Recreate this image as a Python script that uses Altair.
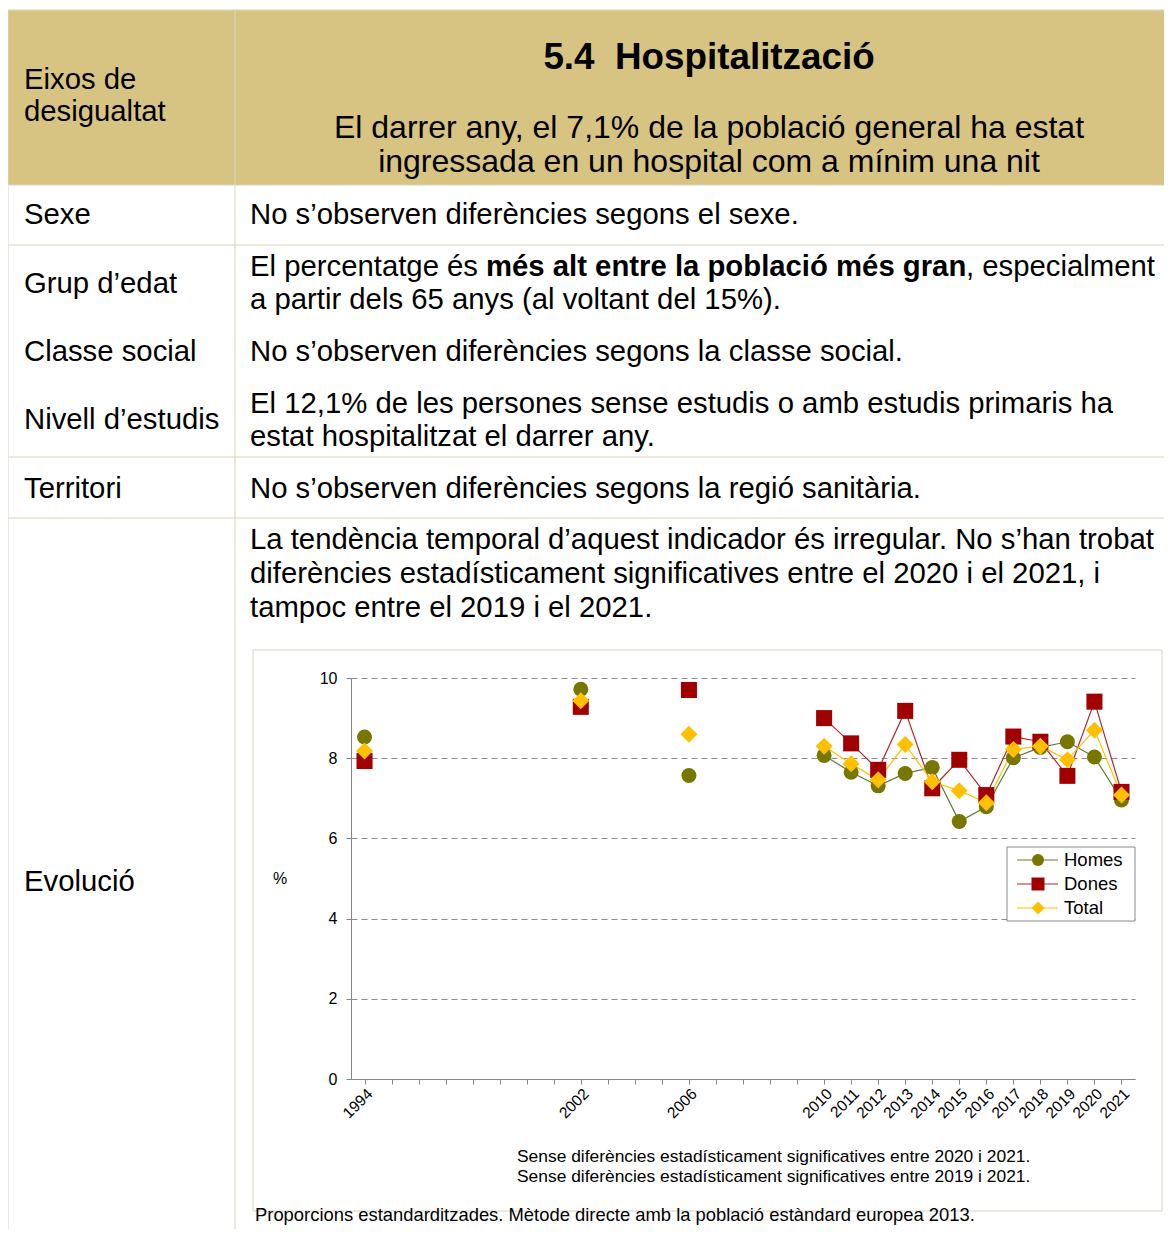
import altair as alt
import pandas as pd

FONT = "Liberation Sans"

# ---- data -------------------------------------------------------------
series = ["Homes", "Dones", "Total"]
years = ["1994", "2002", "2006", "2010", "2011", "2012", "2013", "2014",
         "2015", "2016", "2017", "2018", "2019", "2020", "2021"]
homes = [8.53, 9.72, 7.57, 8.07, 7.65, 7.31, 7.62, 7.77, 6.42, 6.79, 8.01, 8.27, 8.41, 8.03, 6.96]
dones = [7.93, 9.28, 9.70, 9.00, 8.37, 7.71, 9.18, 7.25, 7.96, 7.08, 8.54, 8.41, 7.56, 9.41, 7.16]
total = [8.18, 9.43, 8.60, 8.30, 7.86, 7.46, 8.34, 7.41, 7.19, 6.89, 8.22, 8.30, 7.96, 8.70, 7.08]

# x axis category slots; the empty years of the original axis are blank slots
B = " "
x_slots = ["1994", B * 1, B * 2, B * 3, B * 4, B * 5, B * 6, B * 7, "2002",
           B * 8, B * 9, B * 10, "2006", B * 11, B * 12, B * 13, B * 14,
           "2010", "2011", "2012", "2013", "2014", "2015", "2016",
           "2017", "2018", "2019", "2020", "2021"]

marker_colors = ["#777700", "#A00000", "#FFC000"]
line_colors = ["#5E7D3A", "#B3262B", "#FFC000"]
marker_shapes = ["circle", "square", "diamond"]
marker_sizes = [225, 289, 256]
legend_sizes = [144, 169, 169]

rows = []
for s, vals in zip(series, [homes, dones, total]):
    for yv, v in zip(years, vals):
        rows.append({"serie": s, "year": yv, "valor": v, "conn": int(yv) >= 2010})
df = pd.DataFrame(rows)
one = pd.DataFrame({"k": [0]})

OX, OY = 351, 678          # page position of plot origin
PW, PH = 784, 401
W, H = 1156, 1221          # canvas size (fits the 1172x1237 window with 8px margins)

def px(X):
    return X - OX

def py(Y):
    return Y - OY

BORDER = "#D9D5BF"
HEADER = "#D8C482"

def text(t, X, Y, size=29.3, weight="normal", align="left"):
    return alt.Chart(one).mark_text(
        font=FONT, fontSize=size, fontWeight=weight, align=align,
        baseline="middle", color="black"
    ).encode(x=alt.value(px(X)), y=alt.value(py(Y)), text=alt.value(t))

def rule(X1, X2, Y1, Y2, color=BORDER, width=1):
    return alt.Chart(one).mark_rule(color=color, strokeWidth=width).encode(
        x=alt.value(px(X1)), x2=alt.value(px(X2)),
        y=alt.value(py(Y1)), y2=alt.value(py(Y2)))

deco = []
deco.append(alt.Chart(one).mark_rect(color=HEADER).encode(
    x=alt.value(px(8)), x2=alt.value(px(1164)),
    y=alt.value(py(10)), y2=alt.value(py(185))))
deco.append(alt.Chart(one).mark_rect(fill="white", fillOpacity=0, stroke="#D6D3C6", strokeWidth=1).encode(
    x=alt.value(px(253)), x2=alt.value(px(1162)),
    y=alt.value(py(650)), y2=alt.value(py(1211))))
for yy in [10, 185, 245, 457, 518]:
    deco.append(rule(8, 1164, yy, yy))
deco.append(rule(8, 8, 10, 1229))
deco.append(rule(235, 235, 10, 1229))

deco += [
    text("Eixos de", 24, 80),
    text("desigualtat", 24, 112),
    text("5.4\u00a0 Hospitalització", 709, 58, size=36.8, weight="bold", align="center"),
    text("El darrer any, el 7,1% de la població general ha estat", 709, 128, size=32, align="center"),
    text("ingressada en un hospital com a mínim una nit", 709, 162, size=32, align="center"),
    text("Sexe", 24, 215),
    text("No s’observen diferències segons el sexe.", 250, 215),
    text("Grup d’edat", 24, 284),
    text("El percentatge és ", 250, 267),
    text("més alt entre la població més gran", 486, 267, weight="bold"),
    text(", especialment", 966, 267),
    text("a partir dels 65 anys (al voltant del 15%).", 250, 300),
    text("Classe social", 24, 352),
    text("No s’observen diferències segons la classe social.", 250, 352),
    text("Nivell d’estudis", 24, 420),
    text("El 12,1% de les persones sense estudis o amb estudis primaris ha", 250, 404),
    text("estat hospitalitzat el darrer any.", 250, 437),
    text("Territori", 24, 489),
    text("No s’observen diferències segons la regió sanitària.", 250, 489),
    text("Evolució", 24, 882),
    text("La tendència temporal d’aquest indicador és irregular. No s’han trobat", 250, 540),
    text("diferències estadísticament significatives entre el 2020 i el 2021, i", 250, 574),
    text("tampoc entre el 2019 i el 2021.", 250, 608),
    text("%", 280, 879, size=16, align="center"),
    text("Sense diferències estadísticament significatives entre 2020 i 2021.", 517, 1157, size=17.4),
    text("Sense diferències estadísticament significatives entre 2019 i 2021.", 517, 1177, size=17.4),
    text("Proporcions estandarditzades. Mètode directe amb la població estàndard europea 2013.", 255, 1215, size=18.4),
]

GRAY = "#868686"
x_enc = alt.X(
    "year:N",
    sort=x_slots,
    scale=alt.Scale(domain=x_slots, paddingInner=0, paddingOuter=0),
    axis=alt.Axis(
        title=None, labelAngle=-45, labelFontSize=15.5, labelColor="black",
        labelOverlap=False, tickSize=5, tickColor=GRAY,
        domainColor=GRAY, grid=False, labelPadding=2,
    ),
)
y_enc = alt.Y(
    "valor:Q",
    scale=alt.Scale(domain=[0, 10]),
    axis=alt.Axis(
        tickCount=5, title=None, labelFontSize=16, labelColor="black", labelPadding=9,
        tickColor=GRAY, domainColor=GRAY,
        grid=True, gridDash=[6, 4], gridColor="#8C8C8C",
    ),
)

lines = alt.Chart(df).transform_filter(alt.datum.conn).mark_line(
    strokeWidth=1.2
).encode(
    x=x_enc, y=y_enc,
    stroke=alt.Stroke("serie:N", scale=alt.Scale(domain=series, range=line_colors), legend=None),
)

points = alt.Chart(df).mark_point(filled=True, opacity=1).encode(
    x=x_enc, y=y_enc,
    color=alt.Color("serie:N", scale=alt.Scale(domain=series, range=marker_colors), legend=None),
    shape=alt.Shape("serie:N", scale=alt.Scale(domain=series, range=marker_shapes), legend=None),
    size=alt.Size("serie:N", scale=alt.Scale(domain=series, range=marker_sizes), legend=None),
)

# legend box (line + marker + label per series)
legend_layers = [alt.Chart(one).mark_rect(fill="white", stroke="#8A8A8A", strokeWidth=1).encode(
    x=alt.value(px(1007)), x2=alt.value(px(1135)),
    y=alt.value(py(847)), y2=alt.value(py(921)))]
for i, s in enumerate(series):
    ly = 860 + 24 * i
    legend_layers.append(rule(1017, 1058, ly, ly, color=line_colors[i], width=1.2))
    legend_layers.append(alt.Chart(one).mark_point(
        filled=True, opacity=1, shape=marker_shapes[i], size=legend_sizes[i], color=marker_colors[i]
    ).encode(x=alt.value(px(1038)), y=alt.value(py(ly))))
    legend_layers.append(text(s, 1064, ly, size=18.5))

chart = alt.layer(*deco, lines, points, *legend_layers).properties(
    width=PW, height=PH,
    padding={"left": OX - 8, "top": OY - 8,
             "right": W - (OX - 8) - PW, "bottom": H - (OY - 8) - PH},
    autosize=alt.AutoSizeParams(type="none"),
).configure(font=FONT).configure_view(stroke=None)

chart.save("out.html", embed_options={"renderer": "svg", "actions": False})
